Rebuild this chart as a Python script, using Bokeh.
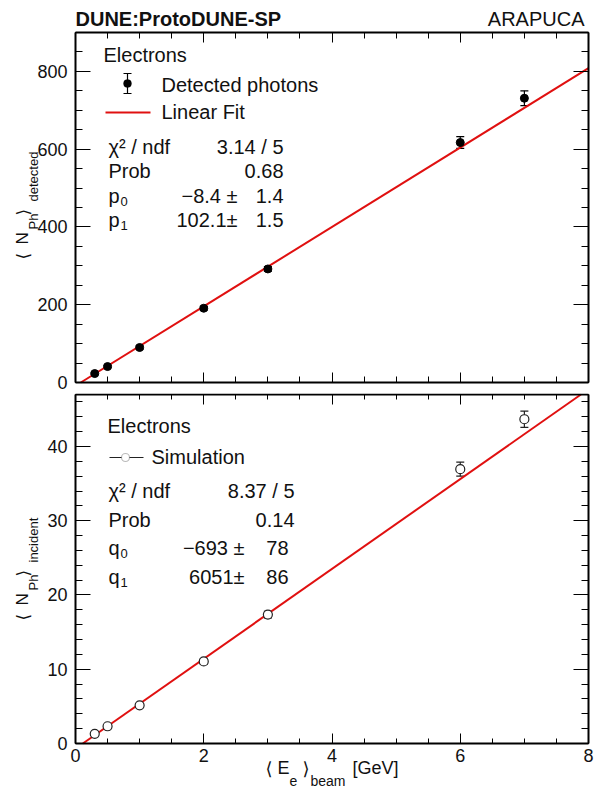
import numpy as np
from bokeh.plotting import figure
from bokeh.models import (Range1d, LinearAxis, SingleIntervalTicker, Label, Arrow,
                          TeeHead, BoxAnnotation, Whisker, ColumnDataSource,
                          CustomJSTickFormatter)
from bokeh.layouts import column
from bokeh.embed import file_html
from bokeh.resources import INLINE

# ---------------- data ----------------
energy = [0.3, 0.5, 1.0, 2.0, 3.0, 6.0, 7.0]            # <E_e>_beam [GeV]
detected = [23, 41, 90, 191, 292, 617, 731]              # <N_Ph>_detected
detected_err = [3, 3, 4, 5, 6, 15, 19]
incident = [1.30, 2.32, 5.14, 11.05, 17.36, 36.95, 43.67]  # <N_Ph>_incident (x10^3)
incident_err = [0.2, 0.2, 0.25, 0.35, 0.45, 0.95, 1.1]
p0, p1 = -8.4, 102.1            # linear fit, detected
q0, q1 = -693.0, 6051.0         # linear fit, simulation
x_lim = (0.0, 8.0)
y_lim_top = (0.0, 900.0)
y_lim_bot = (0.0, 47.0)
top_stats = [("χ² / ndf", "", "3.14 / 5", ""), ("Prob", "", "0.68", ""),
             ("p", "0", "−8.4 ±", "1.4"), ("p", "1", "102.1±", "1.5")]
bot_stats = [("χ² / ndf", "", "8.37 / 5", ""), ("Prob", "", "0.14", ""),
             ("q", "0", "−693 ±", "78"), ("q", "1", "6051±", "86")]

FONT = "Liberation Sans"
RED = "#e01010"
INK = "#111111"
W = 594
H_TOP = 393
H_BOT = 396
OFF = H_TOP              # canvas offset of the lower figure
BOX_L, BOX_R = 75, 588   # plot box, pixels


def lab(fig, x, y, text, size, bold=False, align="left", angle=0.0, font=FONT):
    """y is the alphabetic baseline (horizontal text) in canvas pixels."""
    if angle == 0.0:
        y = y - 0.35 * size
    fig.add_layout(Label(x=x, y=y, x_units="canvas", y_units="canvas", text=text,
                         text_font=font, text_font_size=f"{size}px",
                         text_font_style="bold" if bold else "normal",
                         text_align=align, text_baseline="middle", angle=angle,
                         text_color=INK))


def panel(height, box_top, box_bot, ylim, yint, yminor, xmaj, xmin, ymaj, ymin, xlabels):
    sx = (BOX_R - BOX_L) / (x_lim[1] - x_lim[0])
    sy = (box_bot - box_top) / (ylim[1] - ylim[0])
    xr = Range1d(x_lim[0] - BOX_L / sx, x_lim[0] + (W - BOX_L) / sx)
    yr = Range1d(ylim[0] - (height - box_bot) / sy, ylim[1] + box_top / sy)
    f = figure(width=W, height=height, x_range=xr, y_range=yr, output_backend="svg",
               toolbar_location=None, x_axis_location=None, y_axis_location=None,
               min_border=0)
    f.xgrid.visible = False
    f.ygrid.visible = False
    f.outline_line_color = None
    f.background_fill_color = "white"
    f.border_fill_color = "white"
    xt = SingleIntervalTicker(interval=2, num_minor_ticks=4)
    yt = SingleIntervalTicker(interval=yint, num_minor_ticks=yminor)
    common = dict(axis_line_width=2, axis_line_color="black",
                  major_tick_line_color="black", minor_tick_line_color="black",
                  major_tick_out=0, minor_tick_out=0,
                  major_label_text_font=FONT, major_label_text_color=INK)
    blank = dict(formatter=CustomJSTickFormatter(code="return ''"),
                 major_label_text_font_size="0px", major_label_standoff=0)
    bottom = LinearAxis(ticker=xt, fixed_location=ylim[0], bounds=x_lim,
                        major_tick_in=xmaj, minor_tick_in=xmin, **common,
                        **(dict(major_label_text_font_size="18px", major_label_standoff=5)
                           if xlabels else blank))
    top = LinearAxis(ticker=xt, fixed_location=ylim[1], bounds=x_lim,
                     major_tick_in=xmaj, minor_tick_in=xmin, **common, **blank)
    left = LinearAxis(ticker=yt, fixed_location=x_lim[0], bounds=ylim,
                      major_tick_in=ymaj, minor_tick_in=ymin, **common,
                      major_label_text_font_size="18px", major_label_standoff=8)
    right = LinearAxis(ticker=yt, fixed_location=x_lim[1], bounds=ylim,
                       major_tick_in=ymaj, minor_tick_in=ymin, **common, **blank)
    f.add_layout(bottom, "below")
    f.add_layout(top, "above")
    f.add_layout(left, "left")
    f.add_layout(right, "right")
    return f


def errbars(fig, x, y, err, color):
    src = ColumnDataSource(dict(x=x, y=y,
                                lo=[v - e for v, e in zip(y, err)],
                                hi=[v + e for v, e in zip(y, err)]))
    fig.add_layout(Whisker(source=src, base="x", upper="hi", lower="lo",
                           dimension="height", line_color=color, line_width=1.2,
                           upper_head=TeeHead(size=8, line_color=color, line_width=1.2),
                           lower_head=TeeHead(size=8, line_color=color, line_width=1.2)))
    return src


# ---------------- top panel ----------------
pt = panel(H_TOP, 32, 382, y_lim_top, 200, 4, 10, 6, 15, 7, False)

fx_t = np.array([-p0 / p1, x_lim[1]])
pt.line(fx_t, p0 + p1 * fx_t, line_color=RED, line_width=2)
src_t = errbars(pt, energy, detected, detected_err, "black")
pt.scatter("x", "y", source=src_t, size=8, color="black")

lab(pt, 75, 25, "DUNE:ProtoDUNE-SP", 20, bold=True)
lab(pt, 584, 25, "ARAPUCA", 20, align="right")

# y title (rotated)
A = np.pi / 2
lab(pt, 22, 259, "⟨", 17, angle=A, font="DejaVu Sans")
lab(pt, 22, 244, "N", 17, angle=A)
lab(pt, 32.5, 229, "Ph", 13, angle=A)
lab(pt, 22, 215, "⟩", 17, angle=A, font="DejaVu Sans")
lab(pt, 32.5, 201, "detected", 13, angle=A)

# legend
lab(pt, 103, 61, "Electrons", 20)
pt.add_layout(Arrow(x_start=127, y_start=73, x_end=127, y_end=93,
                    start_units="canvas", end_units="canvas",
                    start=TeeHead(size=8, line_color="black", line_width=1.2),
                    end=TeeHead(size=8, line_color="black", line_width=1.2),
                    line_color="black", line_width=1.2))
pt.add_layout(BoxAnnotation(left=123, right=131, top=79, bottom=87,
                            left_units="canvas", right_units="canvas",
                            top_units="canvas", bottom_units="canvas",
                            border_radius=4, fill_color="black", fill_alpha=1,
                            line_color="black"))
lab(pt, 161, 91, "Detected photons", 20)
pt.add_layout(Arrow(x_start=105, y_start=112, x_end=150, y_end=112,
                    start_units="canvas", end_units="canvas", end=None,
                    line_color=RED, line_width=2))
lab(pt, 161, 118, "Linear Fit", 20)

for (name, sub, val, err), yb in zip(top_stats, [153, 177, 202, 226]):
    lab(pt, 108, yb, name, 20)
    if sub:
        lab(pt, 120, yb + 4, sub, 13)
    lab(pt, 237 if err else 283, yb, val, 20, align="right")
    if err:
        lab(pt, 283, yb, err, 20, align="right")

# ---------------- bottom panel ----------------
pb = panel(H_BOT, 394 - OFF, 743 - OFF, y_lim_bot, 10, 5, 10, 5, 15, 7, True)

fx_b = np.array([-q0 / q1, min(x_lim[1], (y_lim_bot[1] * 1000.0 - q0) / q1)])
pb.line(fx_b, (q0 + q1 * fx_b) / 1000.0, line_color=RED, line_width=2)
src_b = errbars(pb, energy, incident, incident_err, "#222222")
pb.scatter("x", "y", source=src_b, size=9, fill_color="white", line_color="#222222",
           line_width=1.2)

# y title (rotated)
lab(pb, 22, 620 - OFF, "⟨", 17, angle=A, font="DejaVu Sans")
lab(pb, 22, 605 - OFF, "N", 17, angle=A)
lab(pb, 32.5, 590 - OFF, "Ph", 13, angle=A)
lab(pb, 22, 576 - OFF, "⟩", 17, angle=A, font="DejaVu Sans")
lab(pb, 32.5, 562 - OFF, "incident", 13, angle=A)

# x title
lab(pb, 265, 774 - OFF, "⟨", 18, font="DejaVu Sans")
lab(pb, 277, 774 - OFF, "E", 18)
lab(pb, 289, 785 - OFF, "e", 14)
lab(pb, 302, 774 - OFF, "⟩", 18, font="DejaVu Sans")
lab(pb, 310, 785 - OFF, "beam", 14)
lab(pb, 352, 774 - OFF, "[GeV]", 18)

# legend
lab(pb, 107, 432 - OFF, "Electrons", 20)
pb.add_layout(Arrow(x_start=109, y_start=457 - OFF, x_end=143, y_end=457 - OFF,
                    start_units="canvas", end_units="canvas", end=None,
                    line_color="#222222", line_width=1.2))
pb.add_layout(BoxAnnotation(left=121, right=129, top=453 - OFF, bottom=461 - OFF,
                            left_units="canvas", right_units="canvas",
                            top_units="canvas", bottom_units="canvas",
                            border_radius=4, fill_color="white", fill_alpha=1,
                            line_color="#222222", line_width=1.2))
lab(pb, 151, 463 - OFF, "Simulation", 20)

for (name, sub, val, err), yb in zip(bot_stats, [497, 526, 554, 583]):
    lab(pb, 108, yb - OFF, name, 20)
    if sub:
        lab(pb, 120, yb - OFF + 4, sub, 13)
    lab(pb, 244 if err else 294, yb - OFF, val, 20, align="right")
    if err:
        lab(pb, 288, yb - OFF, err, 20, align="right")

layout = column(pt, pb)
open("out.html", "w").write(file_html(layout, INLINE))
